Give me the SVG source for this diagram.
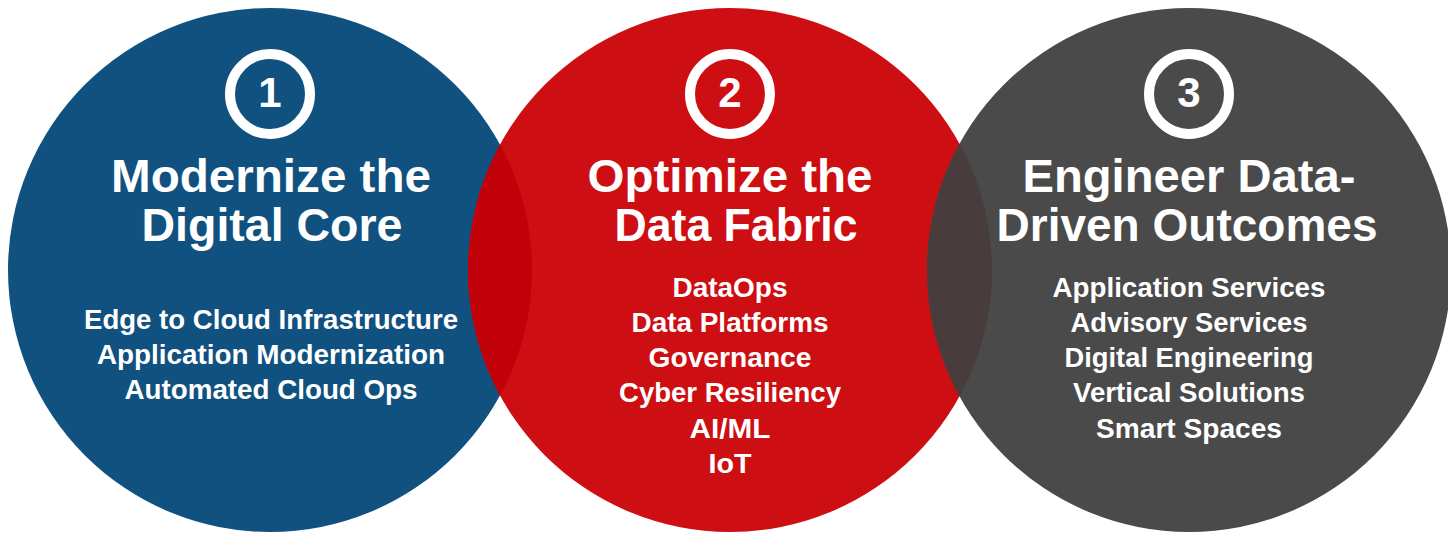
<svg xmlns="http://www.w3.org/2000/svg" width="1448" height="533" viewBox="0 0 1448 533">
  <style>
    .title { font-family: "Liberation Sans", Arial, sans-serif; font-weight: bold; font-size: 46px; fill: #ffffff; text-anchor: middle; }
    .item { font-family: "Liberation Sans", Arial, sans-serif; font-weight: bold; font-size: 27px; fill: #ffffff; text-anchor: middle; }
    .num { font-family: "Liberation Sans", Arial, sans-serif; font-weight: bold; font-size: 42px; fill: #ffffff; text-anchor: middle; }
    .ring { fill: none; stroke: #ffffff; stroke-width: 10; }
  </style>
  <defs>
    <clipPath id="clip-blue"><circle cx="270" cy="270" r="262"/></clipPath>
    <clipPath id="clip-red"><circle cx="730" cy="270" r="262"/></clipPath>
  </defs>
  <rect width="1448" height="533" fill="#ffffff"/>

  <g id="circles">
    <circle cx="270" cy="270" r="262" fill="#115180"/>
    <circle cx="730" cy="270" r="262" fill="#cd0e12"/>
    <circle cx="730" cy="270" r="262" fill="#c00109" clip-path="url(#clip-blue)"/>
    <circle cx="1189" cy="270" r="262" fill="#4a4a4a"/>
    <circle cx="1189" cy="270" r="262" fill="#483c3c" clip-path="url(#clip-red)"/>
  </g>

  <g id="node-1">
    <circle class="ring" cx="270" cy="94" r="40"/>
    <text class="num" x="270" y="107">1</text>
    <text class="title" x="271" y="192" textLength="320" lengthAdjust="spacingAndGlyphs">Modernize the</text>
    <text class="title" x="272" y="241" textLength="261" lengthAdjust="spacingAndGlyphs">Digital Core</text>
    <text class="item" x="271" y="329" textLength="374" lengthAdjust="spacingAndGlyphs">Edge to Cloud Infrastructure</text>
    <text class="item" x="271" y="364" textLength="348" lengthAdjust="spacingAndGlyphs">Application Modernization</text>
    <text class="item" x="271" y="399" textLength="293" lengthAdjust="spacingAndGlyphs">Automated Cloud Ops</text>
  </g>

  <g id="node-2">
    <circle class="ring" cx="730" cy="94" r="40"/>
    <text class="num" x="730" y="107">2</text>
    <text class="title" x="730" y="192" textLength="285" lengthAdjust="spacingAndGlyphs">Optimize the</text>
    <text class="title" x="736" y="241" textLength="243" lengthAdjust="spacingAndGlyphs">Data Fabric</text>
    <text class="item" x="730" y="297" textLength="115" lengthAdjust="spacingAndGlyphs">DataOps</text>
    <text class="item" x="730" y="332" textLength="197" lengthAdjust="spacingAndGlyphs">Data Platforms</text>
    <text class="item" x="730" y="367" textLength="163" lengthAdjust="spacingAndGlyphs">Governance</text>
    <text class="item" x="730" y="402" textLength="222" lengthAdjust="spacingAndGlyphs">Cyber Resiliency</text>
    <text class="item" x="730" y="438" textLength="81" lengthAdjust="spacingAndGlyphs">AI/ML</text>
    <text class="item" x="730" y="473" textLength="43" lengthAdjust="spacingAndGlyphs">IoT</text>
  </g>

  <g id="node-3">
    <circle class="ring" cx="1189" cy="94" r="40"/>
    <text class="num" x="1189" y="107">3</text>
    <text class="title" x="1189" y="192" textLength="333" lengthAdjust="spacingAndGlyphs">Engineer Data-</text>
    <text class="title" x="1187" y="241" textLength="381" lengthAdjust="spacingAndGlyphs">Driven Outcomes</text>
    <text class="item" x="1189" y="297" textLength="273" lengthAdjust="spacingAndGlyphs">Application Services</text>
    <text class="item" x="1189" y="332" textLength="237" lengthAdjust="spacingAndGlyphs">Advisory Services</text>
    <text class="item" x="1189" y="367" textLength="249" lengthAdjust="spacingAndGlyphs">Digital Engineering</text>
    <text class="item" x="1189" y="402" textLength="232" lengthAdjust="spacingAndGlyphs">Vertical Solutions</text>
    <text class="item" x="1189" y="438" textLength="186" lengthAdjust="spacingAndGlyphs">Smart Spaces</text>
  </g>
</svg>
